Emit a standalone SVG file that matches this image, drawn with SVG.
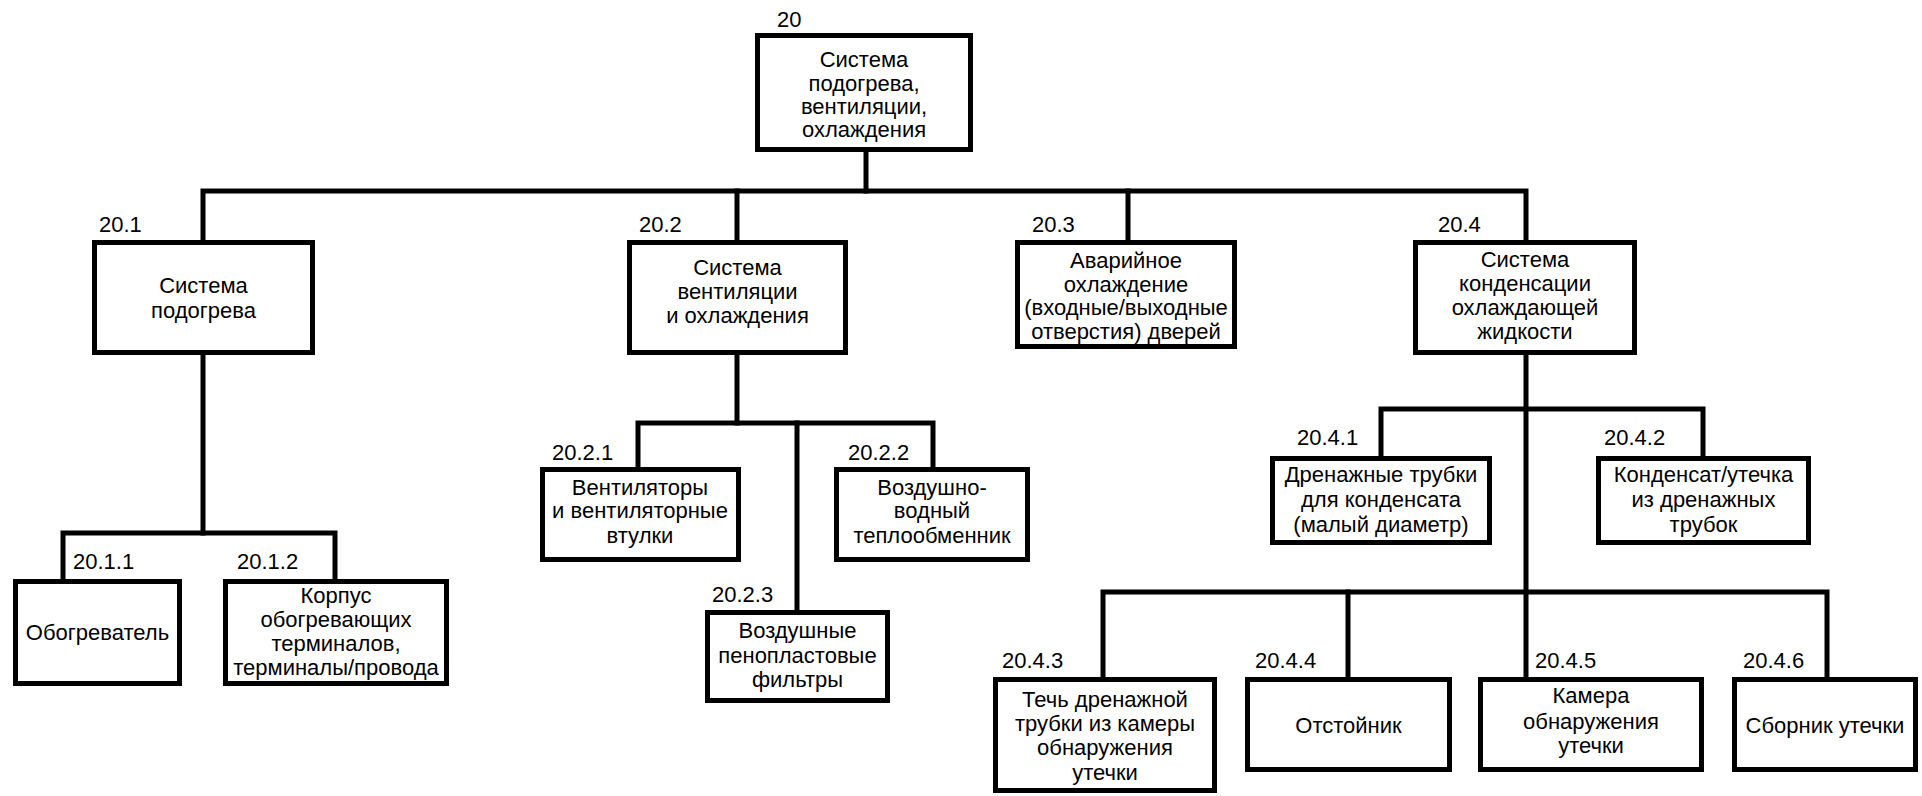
<svg xmlns="http://www.w3.org/2000/svg" width="1922" height="796" viewBox="0 0 1922 796">
<style>
  .box { fill: #ffffff; stroke: #000000; stroke-width: 5; }
  .wire { fill: none; stroke: #000000; stroke-width: 5; stroke-linejoin: miter; stroke-linecap: square; }
  text { font-family: "Liberation Sans", Arial, sans-serif; font-size: 22px; fill: #000000; }
  .c { text-anchor: middle; }
</style>
<rect x="0" y="0" width="1922" height="796" fill="#ffffff"/>
<g id="connectors">
  <path class="wire" d="M866,152 V191"/>
  <path class="wire" d="M203,240 V191 H1526 V240"/>
  <path class="wire" d="M737,191 V240"/>
  <path class="wire" d="M1128,191 V240"/>
  <path class="wire" d="M203,355 V533"/>
  <path class="wire" d="M63,579 V533 H335 V579"/>
  <path class="wire" d="M737,355 V423"/>
  <path class="wire" d="M638,467 V423 H933 V467"/>
  <path class="wire" d="M797,423 V610"/>
  <path class="wire" d="M1526,355 V677"/>
  <path class="wire" d="M1381,456 V409 H1703 V456"/>
  <path class="wire" d="M1103,677 V592 H1827 V677"/>
  <path class="wire" d="M1348,592 V677"/>
</g>
<g id="n20">
  <rect class="box" x="757.5" y="35.5" width="213" height="114"/>
  <text x="777" y="27">20</text>
  <text class="c" x="864" y="67">Система</text>
  <text class="c" x="864" y="91">подогрева,</text>
  <text class="c" x="864" y="114">вентиляции,</text>
  <text class="c" x="864" y="137">охлаждения</text>
</g>
<g id="n20_1">
  <rect class="box" x="94.5" y="242.5" width="218" height="110"/>
  <text x="99" y="232">20.1</text>
  <text class="c" x="203.5" y="293">Система</text>
  <text class="c" x="203.5" y="318">подогрева</text>
</g>
<g id="n20_2">
  <rect class="box" x="629.5" y="242.5" width="216" height="110"/>
  <text x="639" y="232">20.2</text>
  <text class="c" x="737.5" y="275">Система</text>
  <text class="c" x="737.5" y="299">вентиляции</text>
  <text class="c" x="737.5" y="323">и охлаждения</text>
</g>
<g id="n20_3">
  <rect class="box" x="1017.5" y="242.5" width="217" height="104"/>
  <text x="1032" y="232">20.3</text>
  <text class="c" x="1126" y="268">Аварийное</text>
  <text class="c" x="1126" y="292">охлаждение</text>
  <text class="c" x="1126" y="315">(входные/выходные</text>
  <text class="c" x="1126" y="339">отверстия) дверей</text>
</g>
<g id="n20_4">
  <rect class="box" x="1415.5" y="242.5" width="219" height="110"/>
  <text x="1438" y="232">20.4</text>
  <text class="c" x="1525" y="267">Система</text>
  <text class="c" x="1525" y="291">конденсации</text>
  <text class="c" x="1525" y="315">охлаждающей</text>
  <text class="c" x="1525" y="339">жидкости</text>
</g>
<g id="n20_1_1">
  <rect class="box" x="15.5" y="581.5" width="164" height="102"/>
  <text x="73" y="569">20.1.1</text>
  <text class="c" x="97.5" y="640">Обогреватель</text>
</g>
<g id="n20_1_2">
  <rect class="box" x="225.5" y="581.5" width="221" height="102"/>
  <text x="237" y="569">20.1.2</text>
  <text class="c" x="336" y="603">Корпус</text>
  <text class="c" x="336" y="627">обогревающих</text>
  <text class="c" x="336" y="651">терминалов,</text>
  <text class="c" x="336" y="675">терминалы/провода</text>
</g>
<g id="n20_2_1">
  <rect class="box" x="542.5" y="469.5" width="196" height="90"/>
  <text x="552" y="460">20.2.1</text>
  <text class="c" x="640" y="495">Вентиляторы</text>
  <text class="c" x="640" y="518">и вентиляторные</text>
  <text class="c" x="640" y="543">втулки</text>
</g>
<g id="n20_2_2">
  <rect class="box" x="836.5" y="469.5" width="191" height="90"/>
  <text x="848" y="460">20.2.2</text>
  <text class="c" x="932" y="495">Воздушно-</text>
  <text class="c" x="932" y="518">водный</text>
  <text class="c" x="932" y="543">теплообменник</text>
</g>
<g id="n20_2_3">
  <rect class="box" x="707.5" y="612.5" width="180" height="88"/>
  <text x="712" y="602">20.2.3</text>
  <text class="c" x="797.5" y="638">Воздушные</text>
  <text class="c" x="797.5" y="663">пенопластовые</text>
  <text class="c" x="797.5" y="687">фильтры</text>
</g>
<g id="n20_4_1">
  <rect class="box" x="1272.5" y="458.5" width="217" height="84"/>
  <text x="1297" y="445">20.4.1</text>
  <text class="c" x="1381" y="482">Дренажные трубки</text>
  <text class="c" x="1381" y="507">для конденсата</text>
  <text class="c" x="1381" y="532">(малый диаметр)</text>
</g>
<g id="n20_4_2">
  <rect class="box" x="1598.5" y="458.5" width="210" height="84"/>
  <text x="1604" y="445">20.4.2</text>
  <text class="c" x="1703.5" y="482">Конденсат/утечка</text>
  <text class="c" x="1703.5" y="507">из дренажных</text>
  <text class="c" x="1703.5" y="532">трубок</text>
</g>
<g id="n20_4_3">
  <rect class="box" x="995.5" y="679.5" width="219" height="111"/>
  <text x="1002" y="668">20.4.3</text>
  <text class="c" x="1105" y="707">Течь дренажной</text>
  <text class="c" x="1105" y="731">трубки из камеры</text>
  <text class="c" x="1105" y="755">обнаружения</text>
  <text class="c" x="1105" y="780">утечки</text>
</g>
<g id="n20_4_4">
  <rect class="box" x="1247.5" y="679.5" width="202" height="90"/>
  <text x="1255" y="668">20.4.4</text>
  <text class="c" x="1348.5" y="733">Отстойник</text>
</g>
<g id="n20_4_5">
  <rect class="box" x="1480.5" y="679.5" width="221" height="90"/>
  <text x="1535" y="668">20.4.5</text>
  <text class="c" x="1591" y="703">Камера</text>
  <text class="c" x="1591" y="729">обнаружения</text>
  <text class="c" x="1591" y="753">утечки</text>
</g>
<g id="n20_4_6">
  <rect class="box" x="1734.5" y="679.5" width="181" height="90"/>
  <text x="1743" y="668">20.4.6</text>
  <text class="c" x="1825" y="733">Сборник утечки</text>
</g>
</svg>
